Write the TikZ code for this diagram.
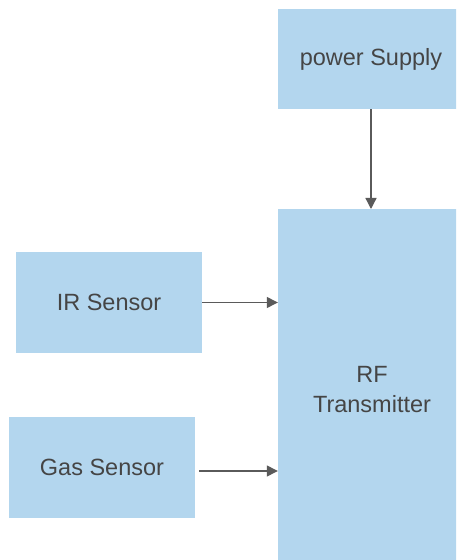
\documentclass[tikz,border=0pt]{standalone}
\usepackage{fontspec}
\setmainfont{Liberation Sans}
\usetikzlibrary{arrows.meta}
\definecolor{boxblue}{HTML}{B3D6EE}
\definecolor{txtgrey}{HTML}{454545}
\definecolor{arrgrey}{HTML}{5A5A5A}
\begin{document}
\begin{tikzpicture}[x=1pt,y=1pt,
  blk/.style={fill=boxblue,draw=none,inner sep=0pt,align=center,text=txtgrey,
    font=\fontsize{23.5}{30}\selectfont},
  arr/.style={draw=arrgrey,line width=1.3pt,-{Triangle[length=11pt,width=11pt]}}]
\useasboundingbox (0,0) rectangle (456,560);
\clip (0,0) rectangle (456,560);
\fill[white] (0,0) rectangle (456,560);
\node[blk,minimum width=186pt,minimum height=100pt] (ps) at (371,501) {power Supply};
\node[blk,minimum width=188pt,minimum height=362pt] (rf) at (372,170) {RF\\Transmitter};
\node[blk,minimum width=186pt,minimum height=101pt] (ir) at (109,257.5) {IR Sensor};
\node[blk,minimum width=186pt,minimum height=101pt] (gas) at (102,92.5) {Gas Sensor};
\draw[arr] (ps.south -| 371,0) -- (371,351);
\draw[arr] (ir.east) -- (ir.east -| rf.west);
\draw[arr] ([xshift=4pt,yshift=-3.5pt]gas.east) -- ([yshift=-3.5pt]gas.east -| rf.west);
\end{tikzpicture}
\end{document}
